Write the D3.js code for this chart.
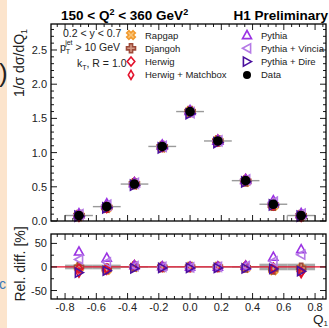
<!DOCTYPE html>
<html>
<head>
<meta charset="utf-8">
<script src="https://cdn.jsdelivr.net/npm/d3@7"></script>
<style>
  body { margin: 0; background: #fff; }
  svg { display: block; font-family: "Liberation Sans", Arial, sans-serif; }
</style>
</head>
<body>
<svg id="chart"></svg>
<script>
const fullWidth = 329;
const fullHeight = 328;

// bin edges and centres in Q1
const binEdges = [-0.8, -0.622, -0.444, -0.267, -0.089, 0.089, 0.267, 0.444, 0.622, 0.8];
const binCenters = [-0.711, -0.533, -0.356, -0.178, 0, 0.178, 0.356, 0.533, 0.711];

// 1/sigma dsigma/dQ1, data
const dataValues = [0.08, 0.21, 0.54, 1.09, 1.60, 1.17, 0.59, 0.245, 0.08];
// data uncertainty in percent (grey band)
const dataErrPct = [5, 5, 2, 1.5, 1.5, 1.5, 2, 7, 7];

// relative difference of each generator to data, percent
const rapgapDiff = [-2, -6, 0, -1, 0, 0, -2, -7, -4];
const djangohDiff = [0, -4, 1, 0, 0, 0, -1, -5, -2];
const herwigDiff = [-4, -3, 3, 0, 0, 0, 2, -1, -10];
const matchboxDiff = [-12, -6, 4, 1, 0, 1, 3, -3, -13];
const pythiaDiff = [33, 20, 4, 2, 1, 1, 3, 22, 38];
const vinciaDiff = [16, 10, 2, 0, -1, 0, 2, 12, 26];
const direDiff = [-12, -8, -3, -2, -2, -2, -3, -4, -9];

const xTicks = [-0.8, -0.6, -0.4, -0.2, 0.0, 0.2, 0.4, 0.6, 0.8];
const yTopTicks = [0.0, 0.5, 1.0, 1.5, 2.0, 2.5];
const yLowTicks = [-50, 0, 50];

const generators = [
    {name: 'Rapgap', shape: 'xcross', color: '#f29a2e', fill: '#f8c57a', diff: rapgapDiff},
    {name: 'Djangoh', shape: 'plus', color: '#9c4a3a', fill: '#d59a86', diff: djangohDiff},
    {name: 'Herwig', shape: 'diamond', color: '#e3122c', fill: 'none', diff: herwigDiff},
    {name: 'Herwig + Matchbox', shape: 'thindiamond', color: '#e3122c', fill: 'none', diff: matchboxDiff},
    {name: 'Pythia', shape: 'tup', color: '#9b33e3', fill: 'none', diff: pythiaDiff},
    {name: 'Pythia + Vincia', shape: 'tleft', color: '#b57ae6', fill: 'none', diff: vinciaDiff},
    {name: 'Pythia + Dire', shape: 'tright', color: '#4a0f9e', fill: 'none', diff: direDiff},
];

function markerPath(shape, s) {
    const h = s / 2;
    const a = h * 0.35;
    switch (shape) {
        case 'tup': return `M0,${-h}L${h},${h * 0.8}L${-h},${h * 0.8}Z`;
        case 'tleft': return `M${-h},0L${h * 0.8},${-h}L${h * 0.8},${h}Z`;
        case 'tright': return `M${h},0L${-h * 0.8},${-h}L${-h * 0.8},${h}Z`;
        case 'diamond': return `M0,${-h}L${h * 0.85},0L0,${h}L${-h * 0.85},0Z`;
        case 'thindiamond': return `M0,${-h}L${h * 0.6},0L0,${h}L${-h * 0.6},0Z`;
        case 'plus':
        case 'xcross':
            return `M${-a},${-h}H${a}V${-a}H${h}V${a}H${a}V${h}H${-a}V${a}H${-h}V${-a}H${-a}Z`;
    }
}

const svg = d3.select('#chart')
    .attr('width', fullWidth)
    .attr('height', fullHeight);

// cropped slide strip on the left
svg.append('rect').attr('x', 0).attr('y', 0).attr('width', 7).attr('height', fullHeight).attr('fill', '#fce4cc');
svg.append('text').attr('x', -1).attr('y', 82).attr('font-size', 26).attr('fill', '#222').text(')');
svg.append('text').attr('x', -1).attr('y', 289).attr('font-size', 14).attr('fill', '#3a78b8').text('c');

const x = d3.scaleLinear().domain([-0.89, 0.87]).range([51, 326]);
const yTop = d3.scaleLinear().domain([0, 2.88]).range([221, 24]);
const yLow = d3.scaleLinear().domain([-68, 70]).range([299, 234]);

function drawFrame(yScale, majorY, minorStep, labelsX, yFormat) {
    const [y0, y1] = yScale.range();
    const g = svg.append('g');
    const xMinor = d3.range(-0.85, 0.871, 0.05).filter(v => !xTicks.some(t => Math.abs(t - v) < 1e-6));
    const yd = yScale.domain();
    const yMinor = d3.range(Math.ceil(yd[0] / minorStep) * minorStep, yd[1] + 1e-9, minorStep)
        .filter(v => !majorY.some(t => Math.abs(t - v) < 1e-6));

    const tick = (x1, y1_, x2, y2) => g.append('line')
        .attr('x1', x1).attr('y1', y1_).attr('x2', x2).attr('y2', y2)
        .attr('stroke', '#000').attr('stroke-width', 0.9);

    xTicks.forEach(v => { tick(x(v), y0, x(v), y0 - 6); tick(x(v), y1, x(v), y1 + 6); });
    xMinor.forEach(v => { tick(x(v), y0, x(v), y0 - 3); tick(x(v), y1, x(v), y1 + 3); });
    majorY.forEach(v => { tick(51, yScale(v), 57, yScale(v)); tick(326, yScale(v), 320, yScale(v)); });
    yMinor.forEach(v => { tick(51, yScale(v), 54, yScale(v)); tick(326, yScale(v), 323, yScale(v)); });

    g.append('rect').attr('x', 51).attr('y', y1).attr('width', 275).attr('height', y0 - y1)
        .attr('fill', 'none').attr('stroke', '#000').attr('stroke-width', 1.3);

    g.selectAll('.ylab').data(majorY).enter().append('text')
        .attr('x', 47).attr('y', d => yScale(d) + 4)
        .attr('text-anchor', 'end').attr('font-size', 11).attr('fill', '#222')
        .text(yFormat);

    if (labelsX) {
        g.selectAll('.xlab').data(xTicks).enter().append('text')
            .attr('x', d => x(d)).attr('y', y0 + 12)
            .attr('text-anchor', 'middle').attr('font-size', 11).attr('fill', '#222')
            .text(d => d.toFixed(1));
    }
}

// ---- top panel ----
const topPanel = svg.append('g');
topPanel.selectAll('.binline').data(dataValues).enter().append('line')
    .attr('x1', (d, i) => x(binEdges[i])).attr('x2', (d, i) => x(binEdges[i + 1]))
    .attr('y1', d => yTop(d)).attr('y2', d => yTop(d))
    .attr('stroke', '#9a9a9a').attr('stroke-width', 1.4);
[0, dataValues.length - 1].forEach(i => {
    const xs = i === 0 ? [binEdges[0]] : [binEdges[i], binEdges[i + 1]];
    xs.forEach(e => topPanel.append('line')
        .attr('x1', x(e)).attr('x2', x(e)).attr('y1', yTop(dataValues[i])).attr('y2', yTop(0))
        .attr('stroke', '#9a9a9a').attr('stroke-width', 1.2));
});

generators.forEach(gen => {
    topPanel.selectAll(null).data(dataValues).enter().append('path')
        .attr('d', markerPath(gen.shape, 10))
        .attr('transform', (d, i) => `translate(${x(binCenters[i])},${yTop(d * (1 + gen.diff[i] / 100))})` + (gen.shape === 'xcross' ? ' rotate(45)' : ''))
        .attr('fill', gen.fill).attr('stroke', gen.color).attr('stroke-width', 1.6);
});
topPanel.selectAll('.data').data(dataValues).enter().append('circle')
    .attr('cx', (d, i) => x(binCenters[i])).attr('cy', d => yTop(d))
    .attr('r', 4.8).attr('fill', '#000');

drawFrame(yTop, yTopTicks, 0.1, false, d => d.toFixed(1));

// ---- ratio panel ----
const lowPanel = svg.append('g');
lowPanel.selectAll('.band').data(dataErrPct).enter().append('rect')
    .attr('x', (d, i) => x(binEdges[i])).attr('width', (d, i) => x(binEdges[i + 1]) - x(binEdges[i]))
    .attr('y', d => yLow(d)).attr('height', d => yLow(-d) - yLow(d))
    .attr('fill', '#a8a8a8');
lowPanel.append('line').attr('x1', 51).attr('x2', 326).attr('y1', yLow(0)).attr('y2', yLow(0))
    .attr('stroke', '#e3122c').attr('stroke-width', 1.3);
generators.forEach(gen => {
    lowPanel.selectAll(null).data(gen.diff).enter().append('path')
        .attr('d', markerPath(gen.shape, 9))
        .attr('transform', (d, i) => `translate(${x(binCenters[i])},${yLow(d)})` + (gen.shape === 'xcross' ? ' rotate(45)' : ''))
        .attr('fill', gen.fill).attr('stroke', gen.color).attr('stroke-width', 1.6);
});

drawFrame(yLow, yLowTicks, 25, true, d => String(d));

// ---- axis titles ----
svg.append('text').attr('transform', 'translate(24,63) rotate(-90)')
    .attr('text-anchor', 'middle').attr('font-size', 14).attr('fill', '#222')
    .html('1/σ dσ/dQ<tspan font-size="9" dy="3">1</tspan>');
svg.append('text').attr('transform', 'translate(25,264) rotate(-90)')
    .attr('text-anchor', 'middle').attr('font-size', 14).attr('fill', '#222')
    .text('Rel. diff. [%]');
svg.append('text').attr('x', 328).attr('y', 324).attr('text-anchor', 'end')
    .attr('font-size', 13.5).attr('fill', '#222')
    .html('Q<tspan font-size="8" dy="2">1</tspan>');

// ---- titles ----
svg.append('text').attr('x', 61).attr('y', 20).attr('font-size', 13.5).attr('font-weight', 'bold')
    .html('150 &lt; Q<tspan font-size="9" dy="-5">2</tspan><tspan dy="5"> &lt; 360 GeV</tspan><tspan font-size="9" dy="-5">2</tspan>');
svg.append('text').attr('x', 328).attr('y', 20).attr('text-anchor', 'end')
    .attr('font-size', 13.5).attr('font-weight', 'bold').text('H1 Preliminary');

// ---- selection annotations ----
svg.append('text').attr('x', 63).attr('y', 37).attr('font-size', 10.5).attr('fill', '#222')
    .text('0.2 < y < 0.7');
svg.append('text').attr('x', 60).attr('y', 51).attr('font-size', 10.5).attr('fill', '#222')
    .html('p<tspan font-size="7" dy="3">T</tspan><tspan font-size="7" dx="-5" dy="-9">jet</tspan><tspan dy="6"> &gt; 10 GeV</tspan>');
svg.append('text').attr('x', 77).attr('y', 67).attr('font-size', 10.5).attr('fill', '#222')
    .html('k<tspan font-size="7" dy="3">T</tspan><tspan dy="-3">, R = 1.0</tspan>');

// ---- legend ----
const legendItems = generators.map(g => ({name: g.name, shape: g.shape, color: g.color, fill: g.fill}));
legendItems.push({name: 'Data', shape: 'data'});
const legend = svg.append('g');
legendItems.forEach((d, i) => {
    const col = i < 4 ? 0 : 1;
    const row = i < 4 ? i : i - 4;
    const lx = col === 0 ? 131 : 247;
    const ly = 35 + row * 13.3;
    if (d.shape === 'data') {
        legend.append('circle').attr('cx', lx).attr('cy', ly).attr('r', 4).attr('fill', '#000');
    } else {
        legend.append('path').attr('d', markerPath(d.shape, 9))
            .attr('transform', `translate(${lx},${ly})` + (d.shape === 'xcross' ? ' rotate(45)' : ''))
            .attr('fill', d.fill).attr('stroke', d.color).attr('stroke-width', 1.6);
    }
    legend.append('text').attr('x', lx + 14).attr('y', ly + 3.5)
        .attr('font-size', 9.5).attr('fill', '#222').text(d.name);
});
</script>
</body>
</html>
